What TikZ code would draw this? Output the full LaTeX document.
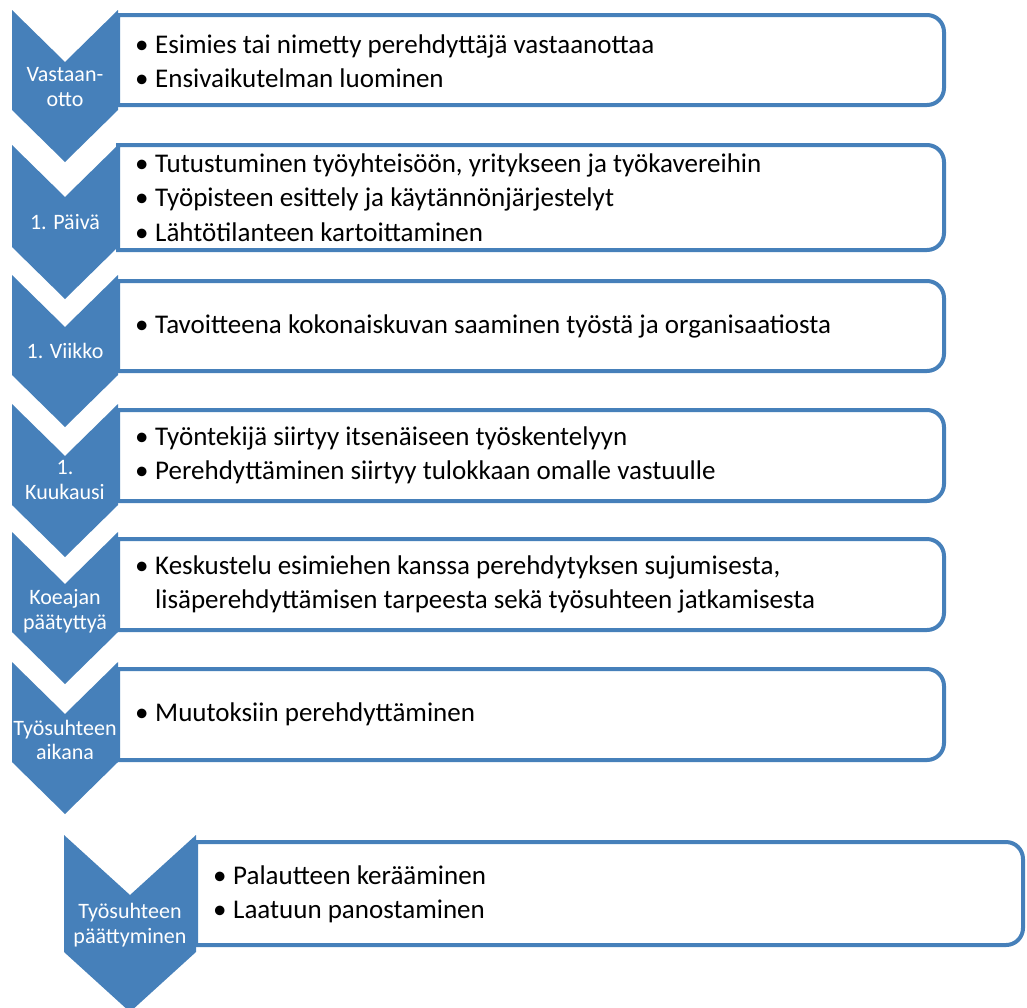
\documentclass[tikz,border=0pt]{standalone}
\usepackage{fontspec}
\setmainfont{Carlito}
\definecolor{sablue}{RGB}{70,128,186}
\tikzset{
 boxline/.style={draw=sablue, line width=4pt, fill=white},
 chev/.style={fill=sablue},
 chevlabel/.style={text=white, align=center, font=\fontsize{22}{24.5}\selectfont, inner sep=0pt},
 itemtext/.style={anchor=west, align=left, font=\fontsize{27}{34.3}\selectfont, inner sep=0pt, text=black},
}
\newcommand\bul{\makebox[20pt][l]{•}}
\newcommand\cont{\hspace*{20pt}}
\newcommand\perbox[4]{%
 \draw[boxline] (#1,#3) -- ({#2-17},#3) .. controls ({#2-7.6},#3) and (#2,{#3+7.6}) .. (#2,{#3+17}) -- (#2,{#4-17}) .. controls (#2,{#4-7.6}) and ({#2-7.6},#4) .. ({#2-17},#4) -- (#1,#4) -- cycle;}
\newcommand\perchev[5]{%
 \fill[chev] (#1,#3) -- ({(#1+#2)/2},{#3+#5}) -- (#2,#3) -- (#2,#4) -- ({(#1+#2)/2},{#4+#5}) -- (#1,#4) -- cycle;}
\begin{document}
\begin{tikzpicture}[x=1pt,y=-1pt]
\useasboundingbox (0,0) rectangle (1027,1007);
% boxes
\perbox{118}{944}{15}{105}
\perbox{118}{944}{145}{250}
\perbox{118}{944}{281}{371}
\perbox{118}{944}{410}{501}
\perbox{118}{944}{539}{630}
\perbox{118}{944}{669}{760}
\perbox{196}{1023}{842}{945}
% chevrons
\perchev{12}{118}{10}{110}{52}
\perchev{12}{118}{145}{247}{52}
\perchev{12}{118}{275}{375}{52}
\perchev{12}{118}{404}{505}{52}
\perchev{12}{118}{532}{632}{52}
\perchev{12}{118}{662}{762}{52}
\perchev{64}{196}{835}{952}{60}
% chevron labels
\node[chevlabel] (c1) at (65,87) {Vastaan-\\otto};
\node[chevlabel] (c2) at (65,222) {1. Päivä};
\node[chevlabel] (c3) at (65,351) {1. Viikko};
\node[chevlabel] (c4) at (65,480) {1.\\Kuukausi};
\node[chevlabel] (c5) at (65,611) {Koeajan\\päätyttyä};
\node[chevlabel] (c6) at (65,740) {Työsuhteen\\aikana};
\node[chevlabel] (c7) at (130,925) {Työsuhteen\\päättyminen};
% box texts
\node[itemtext] (t1) at (135,61) {\bul Esimies tai nimetty perehdyttäjä vastaanottaa\\\bul Ensivaikutelman luominen};
\node[itemtext] (t2) at (135,197.5) {\bul Tutustuminen työyhteisöön, yritykseen ja työkavereihin\\\bul Työpisteen esittely ja käytännönjärjestelyt\\\bul Lähtötilanteen kartoittaminen};
\node[itemtext] (t3) at (135,326) {\bul Tavoitteena kokonaiskuvan saaminen työstä ja organisaatiosta};
\node[itemtext] (t4) at (135,455.5) {\bul Työntekijä siirtyy itsenäiseen työskentelyyn\\\bul Perehdyttäminen siirtyy tulokkaan omalle vastuulle};
\node[itemtext] (t5) at (135,584.5) {\bul Keskustelu esimiehen kanssa perehdytyksen sujumisesta,\\\cont lisäperehdyttämisen tarpeesta sekä työsuhteen jatkamisesta};
\node[itemtext] (t6) at (135,714.5) {\bul Muutoksiin perehdyttäminen};
\node[itemtext] (t7) at (213,894) {\bul Palautteen kerääminen\\\bul Laatuun panostaminen};
\end{tikzpicture}
\end{document}
